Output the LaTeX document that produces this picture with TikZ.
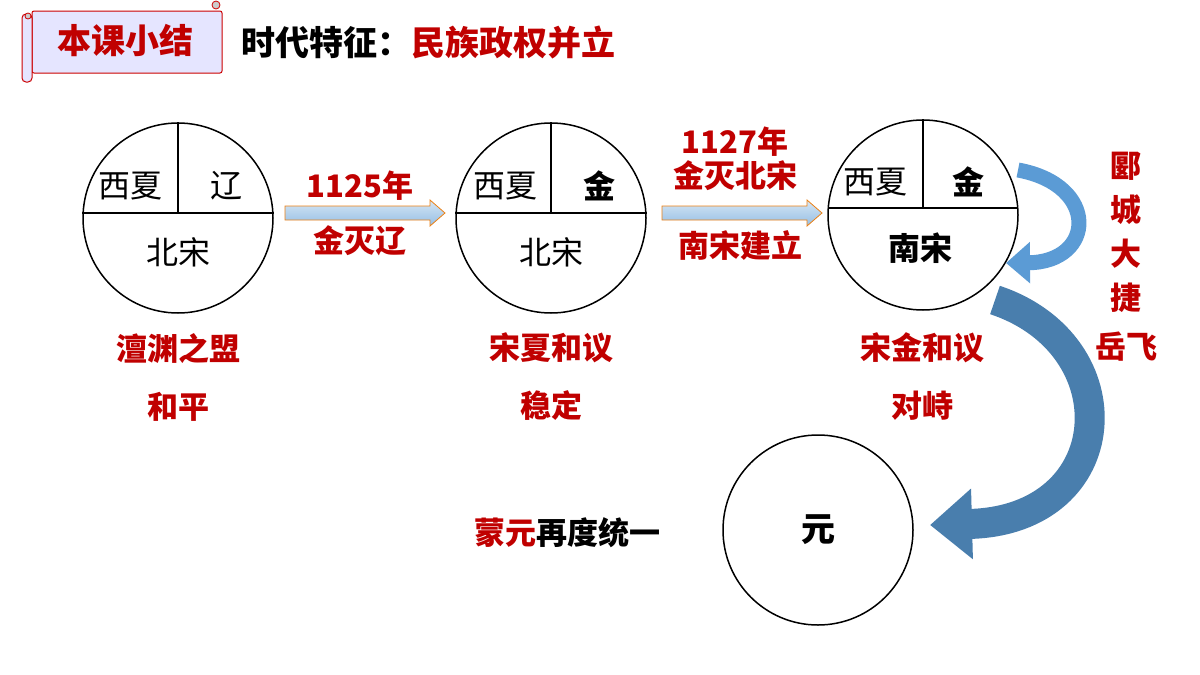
\documentclass[tikz,border=0pt]{standalone}
\usepackage{fontspec}
\setmainfont{Noto Sans CJK SC}
\usetikzlibrary{arrows.meta}
\definecolor{dred}{HTML}{C00000}
\definecolor{lb}{HTML}{5B9BD5}
\definecolor{db}{HTML}{41719C}
\tikzset{
 circ/.style={draw,line width=1.5pt,circle,minimum size=190pt,inner sep=0pt},
 cell/.style={font=\fontsize{32}{32}\selectfont},
 cellb/.style={font=\fontsize{32}{32}\selectfont\bfseries},
 red/.style={text=dred,font=\fontsize{31}{36}\selectfont\bfseries,align=center},
 blk/.style={font=\fontsize{31}{32}\selectfont\bfseries},
 barr/.style={draw=orange!70!brown,line width=0.8pt,top color=lb!25,bottom color=lb!65},
}
\begin{document}
\begin{tikzpicture}[x=1pt,y=-1pt]
\useasboundingbox (0,0) rectangle (1200,675);
% scroll
\node[draw=red!80!black,fill=blue!10!white,rounded corners=2pt,line width=1pt,minimum width=190pt,minimum height=62pt] (scroll) at (127,42) {};
\draw[draw=red!80!black,fill=blue!10!white,line width=1pt,rounded corners=4pt] (22,14) rectangle (32,82);
\draw[draw=red!80!black,fill=gray!40,line width=0.8pt] (216,5) circle (4);
\draw[draw=red!80!black,fill=gray!40,line width=0.8pt] (28,16) circle (3);
\node[red,font=\fontsize{34}{34}\selectfont\bfseries] (title) at (125,40) {本课小结};
\node[anchor=west,font=\fontsize{34}{34}\selectfont\bfseries] (feat) at (238,42) {时代特征：\textcolor{dred}{民族政权并立}};
% circles
\node[circ] (c1) at (178,218) {};
\node[circ] (c2) at (551,218) {};
\node[circ] (c3) at (923,215) {};
\node[circ] (c4) at (818,530) {};
\draw[line width=1.5pt] (c1.west|-0,213) -- (c1.east|-0,213) (178,213) -- (c1.north);
\draw[line width=1.5pt] (c2.west|-0,213) -- (c2.east|-0,213) (551,213) -- (c2.north);
\draw[line width=1.5pt] (829,208) -- (1017,208) (923,208) -- (c3.north);
\node[cell] (x1) at (130,186) {西夏};
\node[cell] (l1) at (226,186) {辽};
\node[cell] (b1) at (178,252) {北宋};
\node[cell] (x2) at (505,186) {西夏};
\node[cellb] (j2) at (599,186) {金};
\node[cell] (b2) at (551,252) {北宋};
\node[cell] (x3) at (875,182) {西夏};
\node[cellb] (j3) at (968,182) {金};
\node[cellb] (n3) at (920,248) {南宋};
\node[blk,font=\fontsize{34}{34}\selectfont\bfseries] (y) at (818,530) {元};
% flat arrows
\draw[barr] (285,206) -- (430,206) -- (430,200) -- (445,213) -- (430,226) -- (430,220) -- (285,220) -- cycle;
\draw[barr] (662,206) -- (807,206) -- (807,200) -- (822,213) -- (807,226) -- (807,220) -- (662,220) -- cycle;
\node[red] at (360,186) {1125年};
\node[red] at (360,241) {金灭辽};
\node[red,font=\fontsize{31}{34}\selectfont\bfseries] at (735,159) {1127年\\金灭北宋};
\node[red] at (740,245) {南宋建立};
% labels
\node[red,font=\fontsize{31}{58}\selectfont\bfseries] at (178,377) {澶渊之盟\\和平};
\node[red,font=\fontsize{31}{58}\selectfont\bfseries] at (551,377) {宋夏和议\\稳定};
\node[red,font=\fontsize{31}{58}\selectfont\bfseries] at (922,377) {宋金和议\\对峙};
\node[red,font=\fontsize{31}{44}\selectfont\bfseries] at (1126,232) {郾\\城\\大\\捷};
\node[red] at (1126,347) {岳飞};
\node[blk,anchor=east] at (664,533) {\textcolor{dred}{蒙元}再度统一};
% curved arrows
\draw[lb,line width=15pt,-{Triangle[width=40pt,length=24pt]}] (1018,170) .. controls (1100,185) and (1095,262) .. (1006,263);
\draw[db!70!lb,line width=30pt,-{Triangle[width=68pt,length=42pt]}] (995,300) .. controls (1130,345) and (1120,520) .. (930,525);
\end{tikzpicture}
\end{document}
